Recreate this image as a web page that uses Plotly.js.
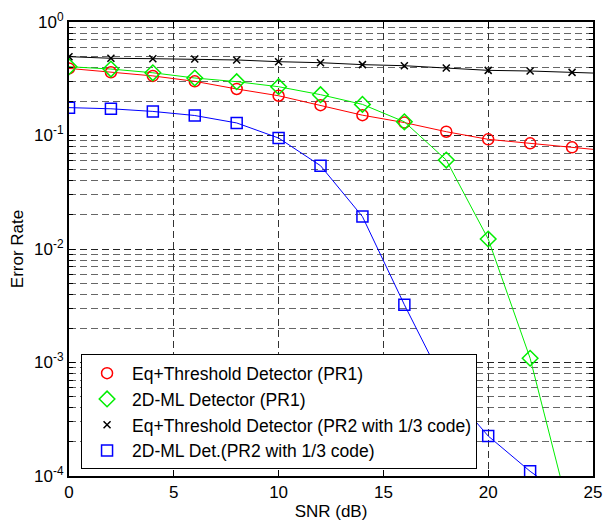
<!DOCTYPE html>
<html>
<head>
<meta charset="utf-8">
<script src="https://cdn.plot.ly/plotly-3.0.1.min.js"></script>
<style>html,body{margin:0;padding:0;background:#fff;}</style>
</head>
<body>
<div id="chart" style="width:604px;height:523px;"></div>
<script>
// SNR points carrying markers (dB)
const snr = [0, 2, 4, 6, 8, 10, 12, 14, 16, 18, 20, 22, 24];
// line continues to the right edge of the axes
const snrLine = [0, 2, 4, 6, 8, 10, 12, 14, 16, 18, 20, 22, 24, 25];

const eqThrPR1   = [0.39, 0.36, 0.335, 0.30, 0.257, 0.224, 0.185, 0.151, 0.130, 0.108, 0.0925, 0.0853, 0.0787, 0.0755];
const mlPR1      = [0.404, 0.385, 0.357, 0.321, 0.298, 0.269, 0.229, 0.188, 0.132, 0.0608, 0.01225, 0.00109, 0.0000385];
const eqThrPR2   = [0.495, 0.479, 0.475, 0.472, 0.463, 0.447, 0.438, 0.421, 0.412, 0.393, 0.375, 0.370, 0.360, 0.355];
const mlPR2      = [0.176, 0.172, 0.163, 0.150, 0.129, 0.095, 0.0542, 0.0193, 0.00323, 0.0006, 0.000225, 0.00011, 0.00006];

const names = [
  'Eq+Threshold Detector (PR1)',
  '2D-ML Detector (PR1)',
  'Eq+Threshold Detector (PR2 with 1/3 code)',
  '2D-ML Det.(PR2 with 1/3 code)'
];
const yTickVals = [1e-4, 1e-3, 1e-2, 1e-1, 1];
const yTickText = ['10<sup>-4</sup>', '10<sup>-3</sup>', '10<sup>-2</sup>', '10<sup>-1</sup>', '10<sup>0</sup>'];
const xTickVals = [0, 5, 10, 15, 20, 25];

const minorVals = [];
for (let e = -4; e < 0; e++) {
  for (let m = 2; m <= 9; m++) minorVals.push(m * Math.pow(10, e));
}

const series = [
  {y: eqThrPR1, color: '#ff0000', symbol: 'circle-open', size: 11},
  {y: mlPR1, color: '#00ee00', symbol: 'diamond-open', size: 12},
  {y: eqThrPR2, color: '#000000', symbol: 'x-thin-open', size: 7},
  {y: mlPR2, color: '#0000ff', symbol: 'square-open', size: 11}
];

const traces = [];
series.forEach(function (s) {
  traces.push({
    x: snrLine.slice(0, s.y.length), y: s.y, type: 'scatter', mode: 'lines',
    line: {color: s.color, width: 1}, showlegend: false, hoverinfo: 'skip'
  });
});
series.forEach(function (s, i) {
  traces.push({
    x: snr, y: s.y.slice(0, snr.length), type: 'scatter', mode: 'markers', name: names[i],
    marker: {symbol: s.symbol, size: s.size, color: s.color, line: {color: s.color, width: 1.5}}
  });
});

const fontFam = 'Liberation Sans, Arial, Helvetica, sans-serif';
const layout = {
  width: 604, height: 523,
  margin: {l: 69, r: 11, t: 22, b: 47},
  paper_bgcolor: '#fff', plot_bgcolor: '#fff',
  font: {family: fontFam, size: 17, color: '#000'},
  showlegend: true,
  legend: {
    x: 0.023, y: 0.268, xanchor: 'left', yanchor: 'top',
    bgcolor: '#fff', bordercolor: '#000', borderwidth: 1,
    font: {family: fontFam, size: 17.5, color: '#000'},
    itemwidth: 40,
    tracegroupgap: 0
  },
  xaxis: {
    range: [0, 25], tickmode: 'array', tickvals: xTickVals,
    ticks: 'inside', ticklen: 6, tickcolor: '#000', tickwidth: 1,
    showline: true, linecolor: '#000', linewidth: 2, mirror: 'ticks',
    showgrid: true, gridcolor: '#333', griddash: '7px,4px', gridwidth: 1,
    zeroline: false,
    tickfont: {family: fontFam, size: 17},
    title: {text: 'SNR (dB)', font: {family: fontFam, size: 17}, standoff: 4}
  },
  yaxis: {
    type: 'log', range: [-4, 0], tickmode: 'array', tickvals: yTickVals, ticktext: yTickText,
    ticks: 'inside', ticklen: 6, tickcolor: '#000', tickwidth: 1,
    showline: true, linecolor: '#000', linewidth: 2, mirror: 'ticks',
    showgrid: true, gridcolor: '#222', griddash: '7px,4px', gridwidth: 1,
    zeroline: false,
    tickfont: {family: fontFam, size: 17},
    minor: {
      tickmode: 'array', tickvals: minorVals, ticks: 'inside', ticklen: 4, tickcolor: '#000',
      showgrid: true, gridcolor: '#666', griddash: '7px,4px', gridwidth: 1
    },
    title: {text: 'Error Rate', font: {family: fontFam, size: 17}, standoff: 6}
  }
};

Plotly.newPlot('chart', traces, layout, {displayModeBar: false, staticPlot: true});
</script>
</body>
</html>
